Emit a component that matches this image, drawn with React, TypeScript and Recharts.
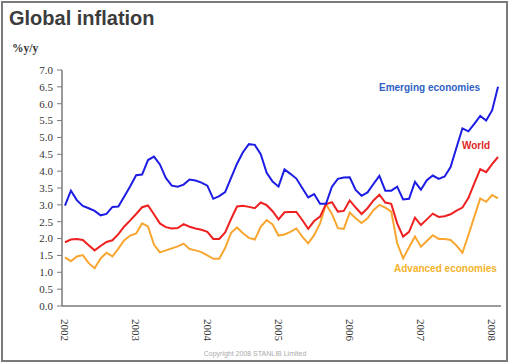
import { LineChart, Line, XAxis, YAxis } from "recharts";

// Jan 2002 .. Feb 2008, one category per month
const months = Array.from({ length: 74 }, (_, i) => `${2002 + Math.floor(i / 12)}-${(i % 12) + 1}`);
const yearIndex = [0, 12, 24, 36, 48, 60, 72];
const yearLabels = ["2002", "2003", "2004", "2005", "2006", "2007", "2008"];
const yTicks = [0, 0.5, 1, 1.5, 2, 2.5, 3, 3.5, 4, 4.5, 5, 5.5, 6, 6.5, 7];

const emerging = [
  2.98, 3.42, 3.14, 2.97, 2.9, 2.82, 2.69, 2.73, 2.94, 2.95, 3.25, 3.55,
  3.88, 3.9, 4.33, 4.43, 4.2, 3.8, 3.57, 3.54, 3.6, 3.75, 3.72, 3.66,
  3.57, 3.18, 3.26, 3.38, 3.8, 4.22, 4.56, 4.8, 4.78, 4.5, 3.95, 3.69,
  3.54, 4.05, 3.92, 3.78, 3.5, 3.22, 3.32, 3.03, 3.03, 3.54, 3.77, 3.81,
  3.82, 3.44, 3.27, 3.37, 3.62, 3.86, 3.42, 3.42, 3.54, 3.16, 3.18, 3.68,
  3.45, 3.73, 3.87, 3.77, 3.84, 4.12, 4.7, 5.27, 5.18, 5.4, 5.64, 5.5,
  5.8, 6.5,
];
const world = [
  1.89, 1.97, 1.99, 1.96, 1.8, 1.65, 1.78, 1.9, 1.95, 2.13, 2.36, 2.54,
  2.73, 2.93, 2.98, 2.72, 2.45, 2.34, 2.3, 2.31, 2.43, 2.35, 2.3, 2.26,
  2.2, 1.99, 1.99, 2.18, 2.58, 2.95, 2.97, 2.94, 2.9, 3.07, 2.99, 2.81,
  2.57, 2.78, 2.79, 2.79, 2.55, 2.29, 2.52, 2.65, 3.02, 3.08, 2.8, 2.82,
  3.13, 2.92, 2.73, 2.9, 3.13, 3.3, 3.07, 3.03, 2.45, 2.06, 2.2, 2.62,
  2.4, 2.57, 2.74, 2.64, 2.66, 2.72, 2.83, 2.92, 3.2, 3.64, 4.06, 3.97,
  4.21, 4.42,
];
const advanced = [
  1.44, 1.33, 1.47, 1.51, 1.27, 1.12, 1.41, 1.58, 1.47, 1.7, 1.95, 2.09,
  2.15, 2.45, 2.36, 1.82, 1.59, 1.65, 1.71, 1.77, 1.85, 1.69, 1.65, 1.6,
  1.5, 1.4, 1.4, 1.72, 2.17, 2.33, 2.16, 2.02, 1.97, 2.35, 2.55, 2.42,
  2.09, 2.12, 2.2, 2.3, 2.06, 1.86, 2.1, 2.45, 3.02, 2.73, 2.31, 2.29,
  2.77, 2.6, 2.46, 2.6, 2.84, 3.0, 2.92, 2.8, 1.86, 1.41, 1.74, 2.06,
  1.76, 1.93, 2.1, 1.99, 1.99, 1.96, 1.79, 1.58, 2.1, 2.65, 3.19, 3.09,
  3.29, 3.19,
];

const data = months.map((m, i) => ({
  i,
  month: m,
  emerging: emerging[i],
  world: world[i],
  advanced: advanced[i],
}));

// month boundaries for the small tick marks
const monthEdges = [...months.map((_, i) => i - 0.5), months.length - 0.5];
const xDomain = [-0.5, months.length - 0.5];

const serif = "'Liberation Serif', 'DejaVu Serif', serif";
const sans = "'Liberation Sans', Arial, sans-serif";
const frame = "#7a7a7a";

function YearTick(props: any) {
  const { x, y, payload } = props;
  const label = yearLabels[yearIndex.indexOf(payload.value)] ?? "";
  return (
    <text
      x={x}
      y={y}
      dy="0.35em"
      transform={`rotate(90, ${x}, ${y})`}
      textAnchor="start"
      fontFamily={serif}
      fontSize={11}
      fill="#333"
    >
      {label}
    </text>
  );
}

export default function App() {
  return (
    <div style={{ position: "absolute", left: 0, top: 0, width: 510, height: 362, background: "#fff" }}>
      <div
        style={{
          position: "absolute",
          left: 1,
          top: 1,
          width: 507,
          height: 361,
          boxSizing: "border-box",
          border: `2px solid ${frame}`,
        }}
      />
      <div
        style={{
          position: "absolute",
          left: 9,
          top: 7,
          fontFamily: sans,
          fontWeight: 700,
          fontSize: 20,
          color: "#3c3c3c",
          whiteSpace: "nowrap",
        }}
      >
        Global inflation
      </div>
      <div
        style={{
          position: "absolute",
          left: 12,
          top: 42,
          fontFamily: serif,
          fontWeight: 700,
          fontSize: 11.5,
          color: "#333",
        }}
      >
        %y/y
      </div>
      <div style={{ position: "absolute", left: 0, top: 0 }}>
        <LineChart width={510} height={362} data={data} margin={{ top: 70, right: 9, bottom: 0, left: 0 }}>
          <XAxis
            xAxisId="top"
            orientation="top"
            type="number"
            dataKey="i"
            domain={xDomain}
            height={0}
            tick={false}
            tickLine={false}
            axisLine={{ stroke: frame, strokeWidth: 1.5 }}
          />
          <XAxis
            type="number"
            dataKey="i"
            domain={xDomain}
            ticks={monthEdges}
            interval={0}
            height={6}
            tick={false}
            tickSize={4}
            tickLine={{ stroke: frame }}
            axisLine={{ stroke: frame, strokeWidth: 1.5 }}
          />
          <XAxis
            xAxisId="years"
            type="number"
            dataKey="i"
            domain={xDomain}
            ticks={yearIndex}
            interval={0}
            height={50}
            axisLine={false}
            tickLine={false}
            tickSize={0}
            tickMargin={7}
            tick={<YearTick />}
          />
          <YAxis
            domain={[0, 7]}
            ticks={yTicks}
            interval={0}
            width={62}
            tickSize={5}
            tickMargin={4}
            tickFormatter={(v: number) => v.toFixed(1)}
            tick={{ fontFamily: serif, fontSize: 11, fill: "#333" }}
            tickLine={{ stroke: frame }}
            axisLine={{ stroke: frame, strokeWidth: 1.5 }}
          />
          <YAxis
            yAxisId="right"
            orientation="right"
            domain={[0, 7]}
            width={0}
            tick={false}
            tickLine={false}
            axisLine={{ stroke: frame, strokeWidth: 1.5 }}
          />
          <Line type="linear" dataKey="advanced" stroke="#f8a630" strokeWidth={2} dot={false} isAnimationActive={false} />
          <Line type="linear" dataKey="world" stroke="#ee2020" strokeWidth={2} dot={false} isAnimationActive={false} />
          <Line type="linear" dataKey="emerging" stroke="#1c1ce4" strokeWidth={2} dot={false} isAnimationActive={false} />
        </LineChart>
      </div>
      <div style={{ position: "absolute", left: 379, top: 82, fontFamily: sans, fontWeight: 700, fontSize: 10, color: "#2f5fc4", whiteSpace: "nowrap" }}>
        Emerging economies
      </div>
      <div style={{ position: "absolute", left: 462, top: 140, fontFamily: sans, fontWeight: 700, fontSize: 10, color: "#e22424", whiteSpace: "nowrap" }}>
        World
      </div>
      <div style={{ position: "absolute", left: 394, top: 263, fontFamily: sans, fontWeight: 700, fontSize: 10, color: "#f3b22a", whiteSpace: "nowrap" }}>
        Advanced economies
      </div>
      <div
        style={{
          position: "absolute",
          left: 0,
          width: 510,
          top: 350,
          textAlign: "center",
          fontFamily: sans,
          fontSize: 7,
          color: "#aaa",
        }}
      >
        Copyright 2008 STANLIB Limited
      </div>
    </div>
  );
}
